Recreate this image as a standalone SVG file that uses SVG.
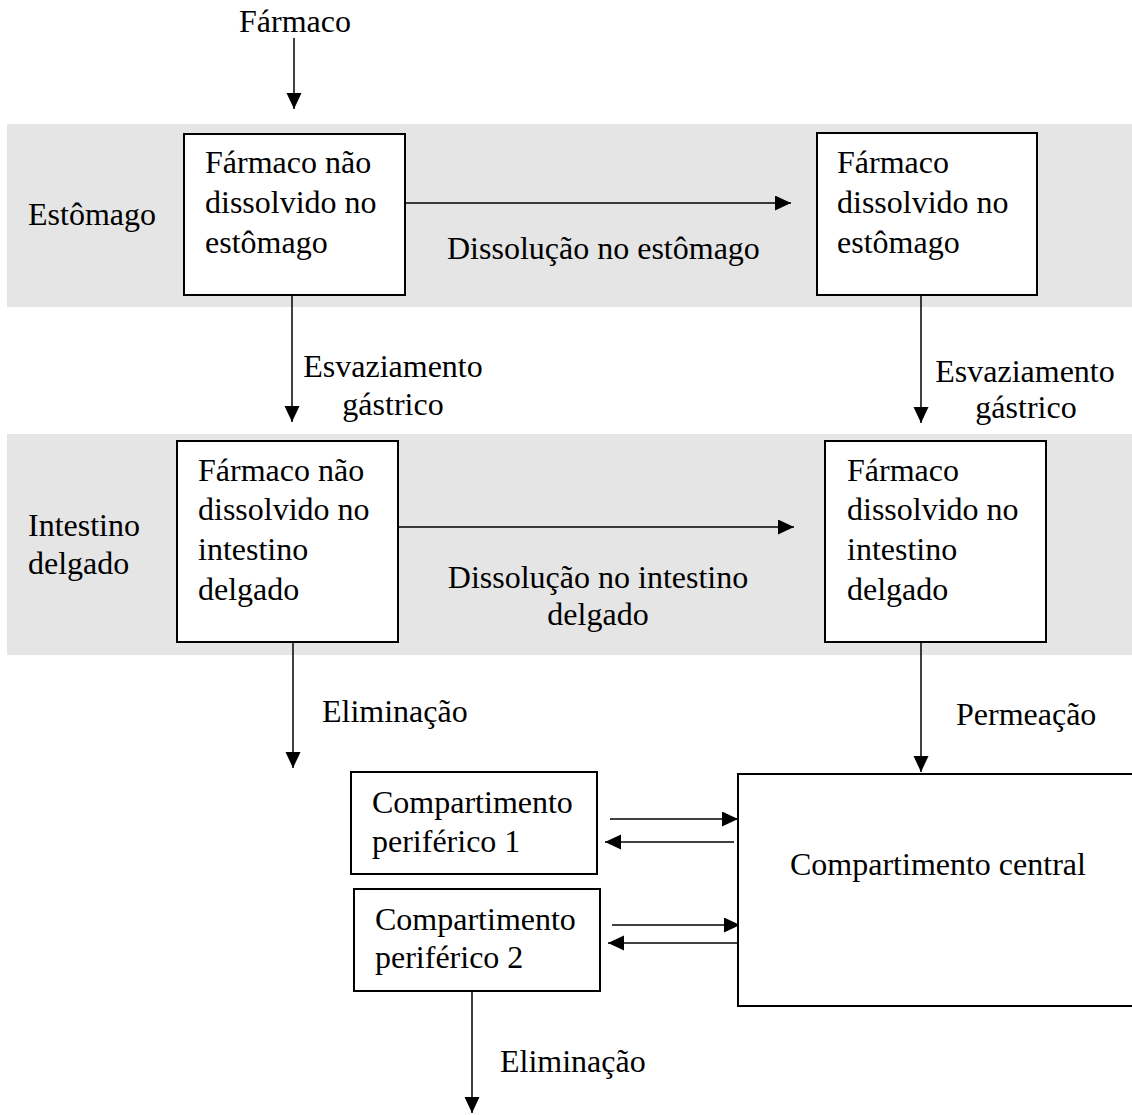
<svg xmlns="http://www.w3.org/2000/svg" width="1132" height="1115" viewBox="0 0 1132 1115">
  <style>
    .band { fill: #e5e5e5; stroke: none; }
    .box { fill: #ffffff; stroke: #000000; stroke-width: 2; }
    .t { font-family: "Liberation Serif", "Times New Roman", serif; font-size: 32px; fill: #000000; }
    .m { text-anchor: middle; }
    .conn { stroke: #000000; stroke-width: 1.5; fill: none; marker-end: url(#ah); }
  </style>
  <defs>
    <marker id="ah" markerUnits="userSpaceOnUse" markerWidth="16" markerHeight="16" refX="16" refY="7.5" orient="auto">
      <path d="M0,0 L16,7.5 L0,15 Z" fill="#000000"/>
    </marker>
  </defs>
  <rect width="1132" height="1115" fill="#ffffff"/>

  <g id="bands">
    <rect class="band" x="7" y="124" width="1125" height="183"/>
    <rect class="band" x="7" y="434" width="1125" height="221"/>
    <text class="t" x="28" y="225">Estômago</text>
    <text class="t" x="28" y="536">Intestino</text>
    <text class="t" x="28" y="574">delgado</text>
  </g>

  <g id="input">
    <text class="t m" x="295" y="32">Fármaco</text>
  </g>

  <g id="connectors">
    <line class="conn" x1="294" y1="38" x2="294" y2="109"/>
    <line class="conn" x1="405" y1="203" x2="791" y2="203"/>
    <line class="conn" x1="292" y1="295" x2="292" y2="422"/>
    <line class="conn" x1="921" y1="295" x2="921" y2="423"/>
    <line class="conn" x1="398" y1="527" x2="794" y2="527"/>
    <line class="conn" x1="293" y1="642" x2="293" y2="768"/>
    <line class="conn" x1="921" y1="642" x2="921" y2="772"/>
    <line class="conn" x1="610" y1="819" x2="738" y2="819"/>
    <line class="conn" x1="734" y1="842" x2="605" y2="842"/>
    <line class="conn" x1="612" y1="925" x2="740" y2="925"/>
    <line class="conn" x1="737" y1="943" x2="608" y2="943"/>
    <line class="conn" x1="472" y1="991" x2="472" y2="1113"/>
    <text class="t" x="447" y="259">Dissolução no estômago</text>
    <text class="t m" x="393" y="377">Esvaziamento</text>
    <text class="t m" x="393" y="415">gástrico</text>
    <text class="t m" x="1025" y="382">Esvaziamento</text>
    <text class="t m" x="1026" y="418">gástrico</text>
    <text class="t m" x="598" y="588">Dissolução no intestino</text>
    <text class="t m" x="598" y="625">delgado</text>
    <text class="t" x="322" y="722">Eliminação</text>
    <text class="t" x="956" y="725">Permeação</text>
    <text class="t" x="500" y="1072">Eliminação</text>
  </g>

  <g id="box-nao-dissolvido-estomago">
    <rect class="box" x="184" y="134" width="221" height="161"/>
    <text class="t" x="205" y="173">Fármaco não</text>
    <text class="t" x="205" y="213">dissolvido no</text>
    <text class="t" x="205" y="253">estômago</text>
  </g>

  <g id="box-dissolvido-estomago">
    <rect class="box" x="817" y="133" width="220" height="162"/>
    <text class="t" x="837" y="173">Fármaco</text>
    <text class="t" x="837" y="213">dissolvido no</text>
    <text class="t" x="837" y="253">estômago</text>
  </g>

  <g id="box-nao-dissolvido-intestino">
    <rect class="box" x="177" y="441" width="221" height="201"/>
    <text class="t" x="198" y="481">Fármaco não</text>
    <text class="t" x="198" y="520">dissolvido no</text>
    <text class="t" x="198" y="560">intestino</text>
    <text class="t" x="198" y="600">delgado</text>
  </g>

  <g id="box-dissolvido-intestino">
    <rect class="box" x="825" y="441" width="221" height="201"/>
    <text class="t" x="847" y="481">Fármaco</text>
    <text class="t" x="847" y="520">dissolvido no</text>
    <text class="t" x="847" y="560">intestino</text>
    <text class="t" x="847" y="600">delgado</text>
  </g>

  <g id="box-periferico-1">
    <rect class="box" x="351" y="772" width="246" height="102"/>
    <text class="t" x="372" y="813">Compartimento</text>
    <text class="t" x="372" y="852">periférico 1</text>
  </g>

  <g id="box-periferico-2">
    <rect class="box" x="354" y="889" width="246" height="102"/>
    <text class="t" x="375" y="930">Compartimento</text>
    <text class="t" x="375" y="968">periférico 2</text>
  </g>

  <g id="box-central">
    <rect class="box" x="738" y="774" width="410" height="232"/>
    <text class="t" x="790" y="875">Compartimento central</text>
  </g>
</svg>
